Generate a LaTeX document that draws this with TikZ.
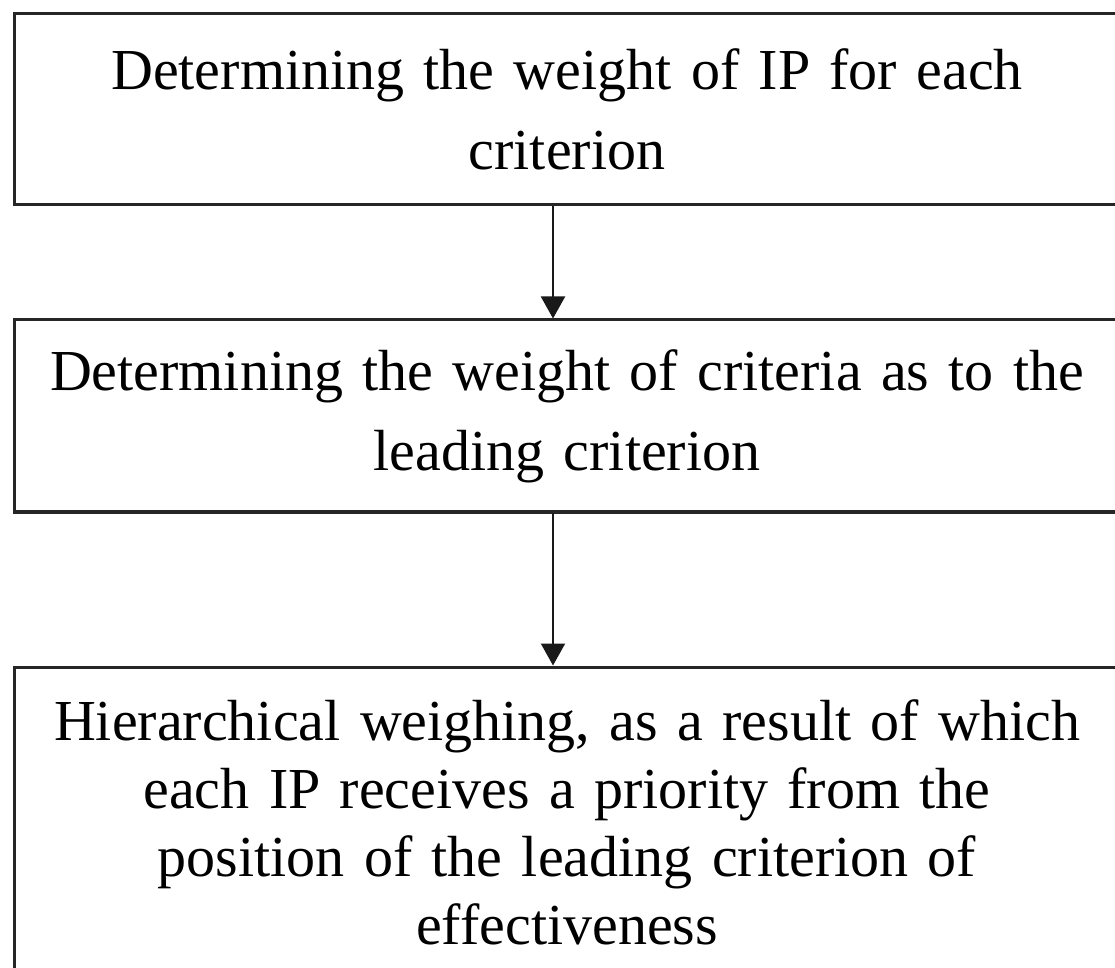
\documentclass[tikz,border=0pt]{standalone}
\usepackage{fontspec}
\setmainfont{Liberation Serif}
\usetikzlibrary{arrows.meta}
\begin{document}
\begin{tikzpicture}[x=0.5pt,y=-0.5pt,
  stepbox/.style={draw=black!85, line width=1.5pt, minimum width=553pt, inner sep=0pt,
    text width=530pt, align=center, font=\fontsize{29}{40}\selectfont},
  flow/.style={draw=black!90, line width=1pt, -{Triangle[length=11pt,width=12pt]}}]
\useasboundingbox (0,0) rectangle (1115,968);
\clip (0,0) rectangle (1115,968);
\fill[white] (0,0) rectangle (1115,968);
\node[stepbox, minimum height=95.5pt] (b1) at (567,109.5) {Determining the weight of IP for each\\criterion};
\node[stepbox, minimum height=96pt] (b2) at (567,416) {Determining the weight of criteria as to the\\leading criterion};
\node[stepbox, minimum height=155pt, font=\fontsize{29}{34}\selectfont] (b3) at (567,822) {Hierarchical weighing, as a result of which\\each IP receives a priority from the\\position of the leading criterion of\\effectiveness};
\coordinate (ax) at (553,0);
\draw[flow] (b1.south -| ax) -- (b2.north -| ax);
\draw[flow] (b2.south -| ax) -- (b3.north -| ax);
\end{tikzpicture}
\end{document}
